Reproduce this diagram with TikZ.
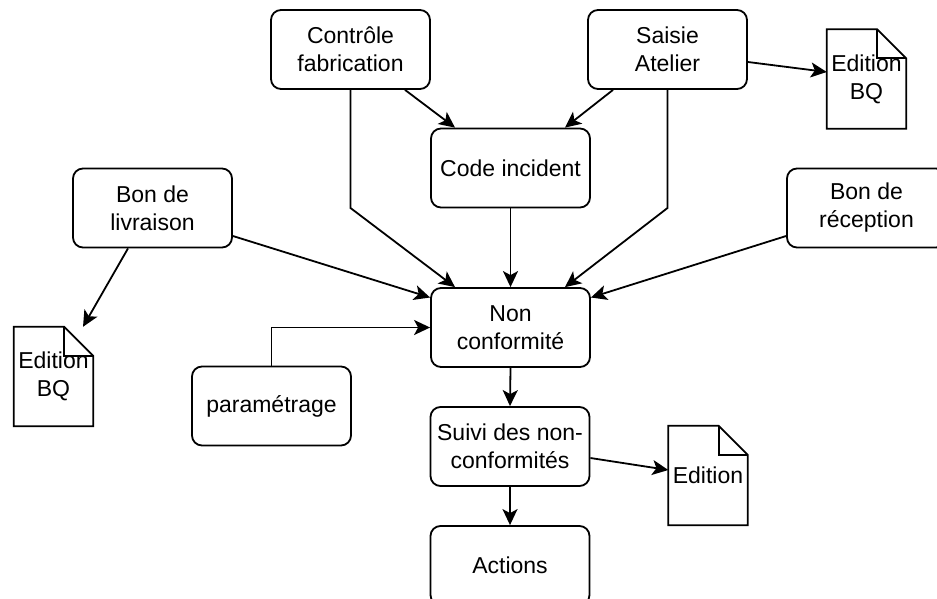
\documentclass[tikz,border=0pt]{standalone}
\usepackage{fontspec}
\setmainfont{Liberation Sans}
\usetikzlibrary{arrows.meta}
\tikzset{
  box/.style={draw, line width=1.8pt, rounded corners=10pt, minimum width=159pt, minimum height=79pt, inner sep=0pt, align=center, font=\fontsize{23}{28}\selectfont},
  docnode/.style={minimum width=79pt, minimum height=99pt, inner sep=0pt, align=center, font=\fontsize{23}{28}\selectfont},
  docline/.style={line width=1.8pt, line join=miter},
  arr/.style={line width=1.8pt, -{Stealth[length=16pt, width=15pt, inset=4pt]}},
}
\newcommand{\mydoc}[1]{%
  \draw[docline] (#1.north west) -- ([xshift=-29pt]#1.north east) -- ([yshift=-29pt]#1.north east) -- (#1.south east) -- (#1.south west) -- cycle;
  \draw[docline] ([xshift=-29pt]#1.north east) -- ([xshift=-29pt,yshift=-29pt]#1.north east) -- ([yshift=-29pt]#1.north east);
}
\begin{document}
\begin{tikzpicture}[x=1pt, y=-1pt]
\useasboundingbox (0,0) rectangle (937,598);
\fill[white] (0,0) rectangle (937,598);
\clip (0,0) rectangle (937,598);

\node[box] (ctrl) at (350.5,49.5) {Contrôle\\fabrication};
\node[box] (saisie) at (667.5,49.5) {Saisie\\Atelier};
\node[box] (code) at (510.5,168) {Code incident};
\node[box] (livr) at (152.5,208) {Bon de\\livraison};
\node[box] (recep) at (866.5,208) {Bon de\\réception};
\node[box] (nonc) at (510.5,327.5) {Non\\conformité};
\node[box] (param) at (271.5,406) {paramétrage};
\node[box] (suivi) at (510,446.5) {Suivi des non-\\conformités};
\node[box] (actions) at (510,565.5) {Actions};

\node[docnode] (edR) at (866.5,79) {};
\mydoc{edR}
\node[docnode] at (edR) {Edition\\BQ};
\node[docnode] (edL) at (53.5,376.5) {};
\mydoc{edL}
\node[docnode] at (edL) {Edition\\BQ};
\node[docnode] (edS) at (708,475.5) {};
\mydoc{edS}
\node[docnode] at (edS) {Edition};

\coordinate (cbend) at (350.5,208);
\coordinate (sbend) at (667.5,208);

\draw[arr] ([xshift=54.5pt]ctrl.south) -- ([xshift=-55.5pt]code.north);
\draw[arr] ([xshift=-54.5pt]saisie.south) -- ([xshift=54.5pt]code.north);
\draw[arr] (ctrl.south) -- (cbend) -- ([xshift=-55.5pt]nonc.north);
\draw[arr] (saisie.south) -- (sbend) -- ([xshift=54.5pt]nonc.north);
\draw[arr] (code.south) -- (nonc.north);
\draw[arr] ([yshift=-28pt]livr.east) -- ([yshift=30pt]nonc.west);
\draw[arr] ([yshift=-28pt]recep.west) -- ([yshift=30pt]nonc.east);
\draw[arr] ([xshift=-24.5pt]livr.south) -- ([xshift=29.5pt]edL.north);
\draw[arr] ([yshift=-12.5pt]saisie.east) -- ([yshift=7pt]edR.west);
\draw[arr] (param.north) |- (nonc.west);
\draw[arr] (nonc.south) -- (suivi.north);
\draw[arr] ([yshift=-11.5pt]suivi.east) -- ([yshift=5.5pt]edS.west);
\draw[arr] (suivi.south) -- (actions.north);
\end{tikzpicture}
\end{document}
